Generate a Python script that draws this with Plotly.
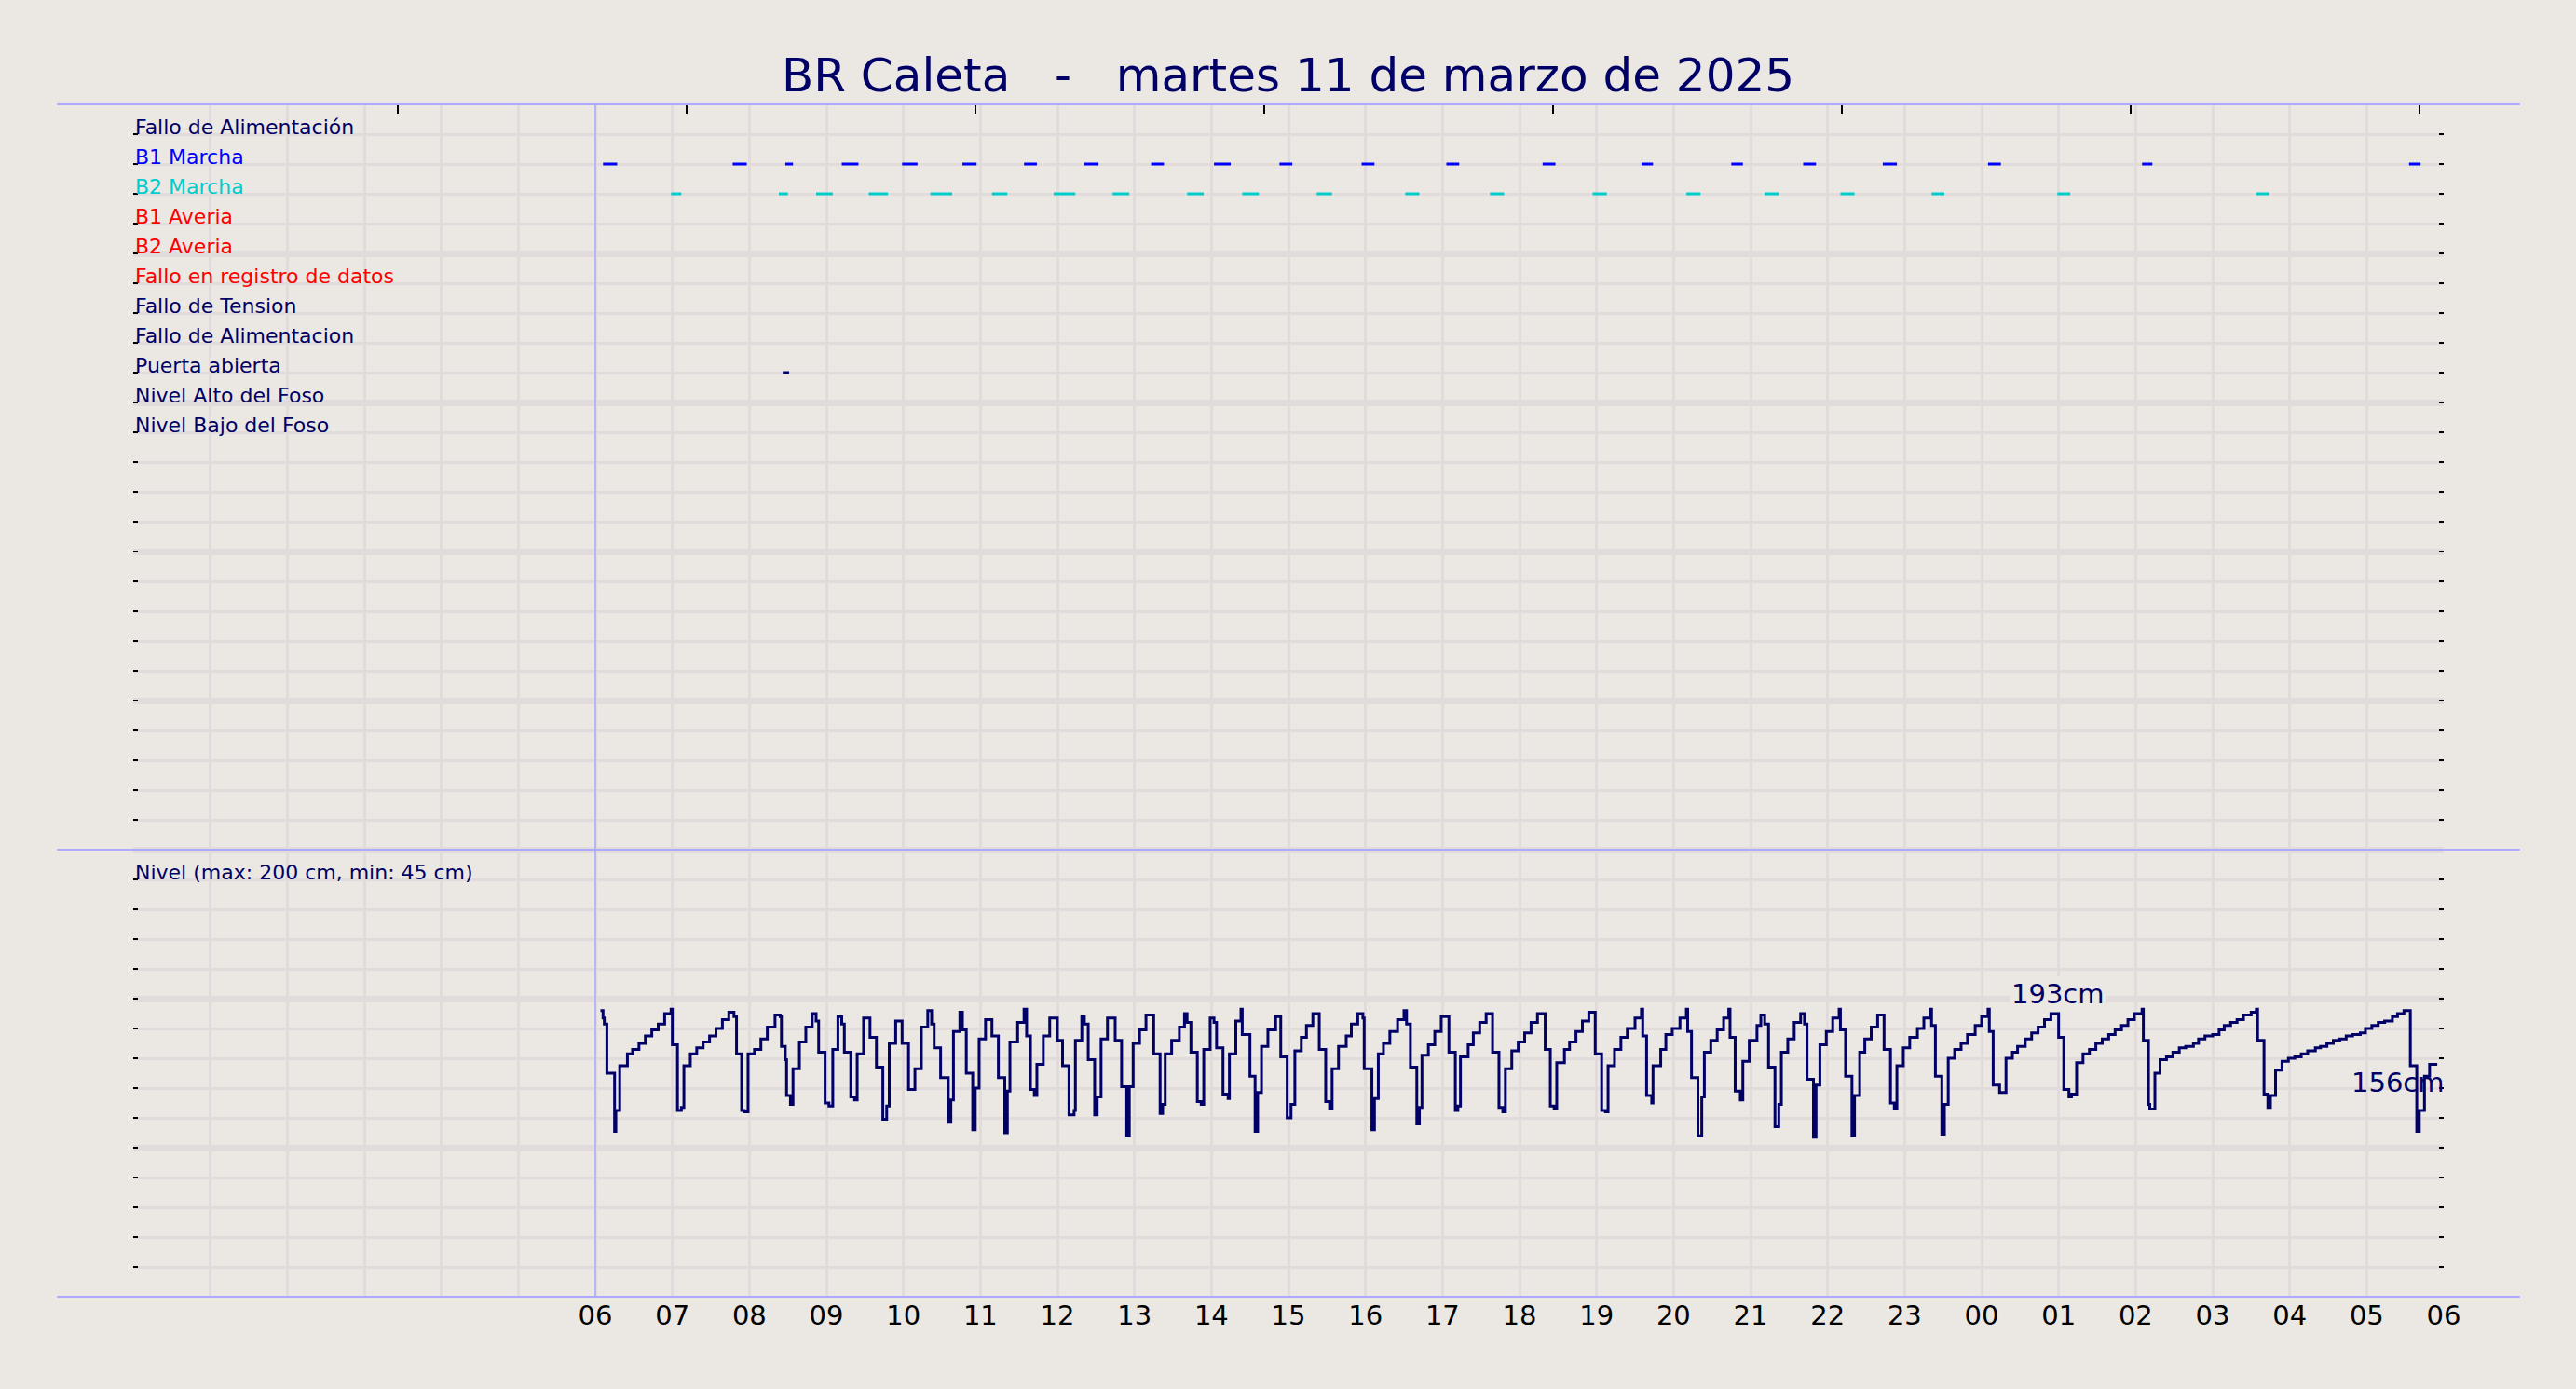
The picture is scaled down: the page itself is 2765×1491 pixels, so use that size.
import pandas as pd
import plotly.graph_objects as go

# inicio del registro diario (06:00)
inicio = pd.Timestamp("2025-03-11 06:00")

# nivel del foso: minutos desde las 06:00 y nivel en cm (cambios de valor)
nivel_min = [4, 6, 7, 9, 15, 16, 19, 25, 29, 34, 39, 44, 49, 54, 59, 60, 64, 67, 69, 74,
             79, 84, 89, 94, 99, 104, 108, 110, 114, 116, 119, 124, 129, 134, 140, 144, 145, 148, 149, 152,
             154, 159, 164, 169, 172, 174, 179, 182, 185, 189, 192, 194, 199, 202, 204, 209, 214, 219, 224, 227,
             229, 234, 239, 244, 249, 254, 259, 262, 264, 269, 275, 277, 279, 284, 286, 289, 294, 296, 299, 304,
             309, 314, 319, 321, 323, 329, 334, 336, 339, 342, 344, 349, 354, 360, 364, 369, 373, 374, 379, 381,
             384, 389, 391, 394, 399, 405, 410, 414, 416, 419, 424, 429, 435, 440, 442, 444, 449, 455, 459, 461,
             464, 469, 472, 474, 479, 482, 484, 489, 493, 494, 499, 503, 504, 510, 514, 516, 519, 524, 530, 534,
             539, 542, 545, 550, 554, 559, 564, 569, 572, 574, 579, 585, 589, 594, 598, 599, 605, 607, 610, 614,
             619, 625, 630, 632, 635, 640, 642, 644, 649, 654, 659, 665, 670, 672, 674, 680, 684, 689, 694, 699,
             704, 707, 709, 714, 719, 724, 729, 734, 740, 744, 747, 749, 755, 759, 764, 769, 774, 779, 784, 787,
             789, 794, 799, 804, 810, 815, 816, 819, 823, 824, 830, 834, 839, 845, 850, 851, 854, 859, 862, 864,
             869, 874, 879, 883, 884, 888, 892, 894, 899, 905, 908, 911, 914, 919, 922, 924, 929, 934, 939, 942,
             944, 949, 951, 954, 959, 964, 969, 970, 974, 979, 981, 985, 989, 994, 999, 1004, 1009, 1012, 1014, 1019,
             1024, 1030, 1035, 1040, 1041, 1044, 1049, 1051, 1054, 1059, 1064, 1069, 1075, 1080, 1085, 1086, 1089, 1094, 1099, 1104,
             1108, 1114, 1119, 1124, 1129, 1134, 1140, 1144, 1148, 1150, 1154, 1159, 1164, 1169, 1174, 1179, 1184, 1189, 1194, 1199,
             1205, 1206, 1210, 1211, 1215, 1219, 1224, 1229, 1234, 1239, 1245, 1249, 1254, 1260, 1265, 1269, 1274, 1279, 1284, 1290,
             1294, 1295, 1300, 1303, 1305, 1309, 1314, 1319, 1324, 1329, 1334, 1340, 1344, 1349, 1354, 1359, 1364, 1369, 1375, 1379,
             1384, 1389, 1394, 1400, 1404, 1409, 1414, 1419, 1421, 1425, 1429, 1435]
nivel_cm = [192, 187, 183, 150, 111, 125, 155, 163, 166, 170, 175, 179, 183, 190, 193, 169, 125, 127, 155, 163,
            167, 171, 175, 180, 186, 191, 188, 163, 125, 124, 163, 166, 173, 181, 189, 188, 168, 159, 135, 129,
            153, 171, 181, 190, 185, 164, 130, 128, 166, 188, 183, 164, 134, 132, 163, 187, 174, 154, 119, 128,
            170, 185, 170, 139, 153, 181, 192, 183, 167, 147, 117, 132, 178, 191, 179, 150, 112, 140, 173, 186,
            175, 147, 110, 138, 171, 184, 193, 175, 139, 135, 156, 175, 187, 172, 155, 122, 125, 172, 188, 183,
            159, 122, 134, 173, 187, 172, 141, 108, 141, 170, 179, 189, 163, 123, 129, 163, 172, 181, 190, 184,
            164, 131, 129, 166, 187, 184, 167, 136, 133, 163, 185, 193, 176, 148, 111, 137, 168, 179, 188, 161,
            120, 129, 165, 174, 182, 190, 166, 131, 126, 153, 168, 175, 183, 190, 187, 153, 112, 133, 163, 170,
            178, 186, 192, 183, 154, 116, 127, 162, 169, 178, 188, 164, 125, 128, 161, 169, 177, 184, 190, 164,
            127, 124, 153, 165, 171, 177, 184, 190, 166, 128, 126, 157, 166, 171, 178, 185, 191, 163, 125, 124,
            155, 166, 174, 180, 187, 193, 175, 135, 130, 155, 166, 176, 180, 187, 193, 178, 147, 108, 134, 164,
            172, 179, 187, 193, 174, 138, 132, 158, 172, 182, 189, 183, 154, 114, 129, 164, 173, 184, 190, 183,
            146, 107, 142, 169, 178, 187, 193, 179, 148, 108, 135, 164, 173, 181, 189, 166, 130, 126, 155, 167,
            174, 180, 187, 193, 182, 148, 109, 129, 160, 166, 170, 176, 182, 188, 193, 178, 142, 137, 160, 164,
            168, 173, 177, 181, 186, 190, 174, 139, 134, 136, 157, 163, 166, 170, 173, 176, 179, 182, 186, 190,
            193, 172, 129, 126, 150, 159, 161, 164, 167, 168, 170, 173, 175, 176, 179, 182, 184, 186, 189, 191,
            193, 172, 136, 127, 135, 152, 158, 160, 161, 163, 165, 167, 168, 170, 172, 173, 175, 176, 177, 180,
            182, 184, 185, 188, 190, 192, 155, 111, 125, 148, 156, 156]

# eventos: minuto de inicio y fin desde las 06:00
b1_ini = [6, 107, 148, 192, 239, 286, 334, 381, 433, 482, 533, 597, 663, 738, 815, 885, 941, 1003, 1085, 1205, 1413]
b1_fin = [17, 118, 154, 205, 251, 297, 344, 392, 443, 495, 543, 607, 673, 748, 824, 894, 951, 1014, 1095, 1213, 1422]
b2_ini = [59, 143, 172, 213, 261, 309, 357, 403, 461, 504, 562, 631, 697, 777, 850, 911, 970, 1041, 1139, 1294]
b2_fin = [67, 150, 185, 228, 278, 321, 374, 416, 474, 517, 574, 642, 708, 788, 861, 922, 981, 1051, 1149, 1304]
puerta_ini = [146]
puerta_fin = [151]

filas = ["Fallo de Alimentación", "B1 Marcha", "B2 Marcha", "B1 Averia", "B2 Averia",
         "Fallo en registro de datos", "Fallo de Tension", "Fallo de Alimentacion",
         "Puerta abierta", "Nivel Alto del Foso", "Nivel Bajo del Foso"]
colores_filas = ["#000066", "#0000ff", "#00cccc", "#ff0000", "#ff0000",
                 "#ff0000", "#000066", "#000066", "#000066", "#000066", "#000066"]
horas = ["06", "07", "08", "09", "10", "11", "12", "13", "14", "15", "16", "17", "18",
         "19", "20", "21", "22", "23", "00", "01", "02", "03", "04", "05", "06"]

fondo = "#ebe7e2"
rejilla = "#e1dcdb"
lavanda = "#aaaaff"
marino = "#000066"
fuente = "DejaVu Sans"


def minutos(m):
    return inicio + pd.to_timedelta(m, unit="min")


def segmentos(ini, fin, fila):
    xs, ys = [], []
    for a, b in zip(ini, fin):
        xs += [minutos(a), minutos(b), None]
        ys += [fila, fila, None]
    return xs, ys


fig = go.Figure()

# barras de eventos
for ini, fin, nombre, color in [(b1_ini, b1_fin, "B1 Marcha", "#0000ff"),
                                (b2_ini, b2_fin, "B2 Marcha", "#00cccc"),
                                (puerta_ini, puerta_fin, "Puerta abierta", marino)]:
    xs, ys = segmentos(ini, fin, filas.index(nombre) + 1)
    fig.add_scatter(x=xs, y=ys, mode="lines", line=dict(color=color, width=3),
                    showlegend=False, hoverinfo="skip")

# nivel
fig.add_scatter(x=minutos(nivel_min), y=nivel_cm, yaxis="y2", mode="lines",
                line=dict(color=marino, width=3, shape="hv"), showlegend=False)

# eje superior (solo marcas)
fig.add_scatter(x=[], y=[], xaxis="x2", showlegend=False)
top_ticks = [0.1145 + 0.125 * k for k in range(8)]

# etiquetas de las filas
for i, (txt, col) in enumerate(zip(filas, colores_filas)):
    fig.add_annotation(x=0, xref="paper", xanchor="left", y=i + 1, yref="y", yanchor="bottom",
                       yshift=-7, text=txt, showarrow=False, font=dict(size=22, color=col, family=fuente))
fig.add_annotation(x=0, xref="paper", xanchor="left", y=26, yref="y", yanchor="bottom",
                   yshift=-7, text="Nivel (max: 200 cm, min: 45 cm)", showarrow=False,
                   font=dict(size=22, color=marino, family=fuente))

fig.add_annotation(x="2025-03-12 00:59:30", y=203, yref="y2", text="193cm", showarrow=False,
                   bgcolor=fondo, font=dict(size=29, color=marino, family=fuente))
fig.add_annotation(x=minutos(nivel_min[-1]), y=144, yref="y2", xanchor="right", xshift=10,
                   text="156cm", showarrow=False, font=dict(size=29, color=marino, family=fuente))

# lineas lavanda
for yy in [1, 0.375, 0]:
    fig.add_shape(type="line", xref="paper", yref="paper", x0=-0.033, x1=1.033, y0=yy, y1=yy,
                  line=dict(color=lavanda, width=2))
fig.add_shape(type="line", xref="x", yref="paper", x0=inicio, x1=inicio, y0=0, y1=1,
              line=dict(color=lavanda, width=1.5))

fig.update_layout(
    width=2765, height=1491,
    margin=dict(l=143, r=142, t=112, b=99),
    paper_bgcolor=fondo, plot_bgcolor=fondo,
    font=dict(family=fuente, color="black"),
    title=dict(text="BR Caleta\u00a0\u00a0 -\u00a0\u00a0 martes 11 de marzo de 2025",
               x=0.5, xanchor="center", y=1 - 80 / 1491, yanchor="middle",
               font=dict(size=50, color=marino, family=fuente)),
    xaxis=dict(range=[inicio - pd.Timedelta(hours=6), inicio + pd.Timedelta(hours=24)],
               tickvals=[inicio + pd.Timedelta(hours=h) for h in range(25)], ticktext=horas,
               tickfont=dict(size=29, color="black"), ticks="", showgrid=True,
               gridcolor=rejilla, gridwidth=2.5, zeroline=False, showline=False,
               minor=dict(dtick=3600000, tick0=inicio - pd.Timedelta(hours=6), showgrid=True,
                          gridcolor=rejilla, gridwidth=2.5)),
    xaxis2=dict(overlaying="x", side="top", range=[0, 1], tickvals=top_ticks, ticks="inside",
                ticklen=10, tickwidth=1.5, tickcolor="black", showticklabels=False,
                showgrid=False, zeroline=False),
    yaxis=dict(range=[40, 0], tick0=0, dtick=5, showgrid=True, gridcolor=rejilla, gridwidth=7,
               ticks="inside", ticklen=5, tickwidth=2, tickcolor="black", mirror="ticks",
               showticklabels=False, zeroline=False, showline=False,
               minor=dict(dtick=1, showgrid=True, gridcolor=rejilla, gridwidth=2.5,
                          ticks="inside", ticklen=5, tickwidth=2, tickcolor="black")),
    yaxis2=dict(overlaying="y", range=[0, 800], visible=False),
)

fig.write_html("out.html", config={"displayModeBar": False},
               post_script="document.body.style.margin='0';")
